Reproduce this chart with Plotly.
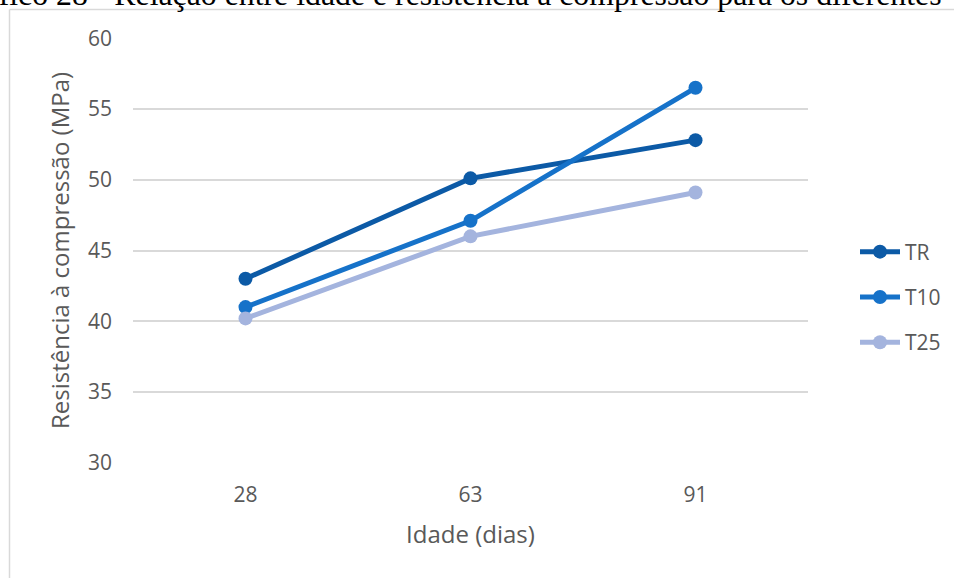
import plotly.graph_objects as go

idades = ["28", "63", "91"]
tr_vals = [43.0, 50.1, 52.8]
t10_vals = [41.0, 47.1, 56.5]
t25_vals = [40.2, 46.0, 49.1]
series_names = ["TR", "T10", "T25"]
series_colors = ["#0C5AA6", "#1672C9", "#A4B4DE"]
y_ticks = [30, 35, 40, 45, 50, 55, 60]

W, H = 954, 578
L, R, T, B = 133, 146, 38, 115
pw, ph = W - L - R, H - T - B


def px_x(px):
    return (px - L) / pw


def px_y(py):
    return (H - B - py) / ph


fig = go.Figure()
for name, vals, col in zip(series_names, [tr_vals, t10_vals, t25_vals], series_colors):
    fig.add_trace(go.Scatter(
        x=idades, y=vals, name=name, mode="lines+markers",
        line=dict(color=col, width=5),
        marker=dict(color=col, size=14),
        legendgroup=name,
    ))

tick_font = dict(family="Open Sans", size=21, color="#595959")
title_font = dict(family="Open Sans", size=24, color="#595959")
fig.update_layout(
    width=W, height=H,
    margin=dict(l=L, r=R, t=T, b=B, autoexpand=False),
    paper_bgcolor="white", plot_bgcolor="white",
    showlegend=True,
    legend=dict(
        x=px_x(855), y=px_y(297), xanchor="left", yanchor="middle",
        font=dict(family="Open Sans", size=21, color="#595959"),
        tracegroupgap=15, itemwidth=40, bgcolor="rgba(0,0,0,0)",
    ),
    xaxis=dict(
        type="category", range=[-0.5, 2.5], showgrid=False, zeroline=False,
        showline=False, ticks="", tickfont=tick_font, ticklabelstandoff=17,
        automargin=False,
        title=dict(text="Idade (dias)", font=title_font, standoff=19),
    ),
    yaxis=dict(
        range=[29.98, 60.02], tickvals=y_ticks, showgrid=True, gridcolor="#D9D9D9",
        gridwidth=1.5, zeroline=False, showline=False, ticks="", tickfont=tick_font,
        ticklabelstandoff=20, automargin=False,
        title=dict(text="Resistência à compressão (MPa)", font=title_font, standoff=11),
    ),
    shapes=[
        dict(type="line", xref="paper", yref="paper", x0=px_x(9.5), x1=px_x(9.5),
             y0=px_y(9.5), y1=px_y(580), line=dict(color="#D9D9D9", width=1.5)),
        dict(type="line", xref="paper", yref="paper", x0=px_x(9.5), x1=px_x(960),
             y0=px_y(9.5), y1=px_y(9.5), line=dict(color="#D9D9D9", width=1.5)),
    ],
    annotations=[
        dict(text="Gráfico 28 - Relação entre idade e resistência à compressão para os diferentes",
             xref="paper", yref="paper", x=px_x(944), y=px_y(14), xanchor="right", yanchor="bottom",
             showarrow=False, font=dict(family="Liberation Serif", size=31.8, color="#000000")),
    ],
)

fig.write_html("out.html", config={"displayModeBar": False},
               post_script="document.body.style.margin='0px';")
